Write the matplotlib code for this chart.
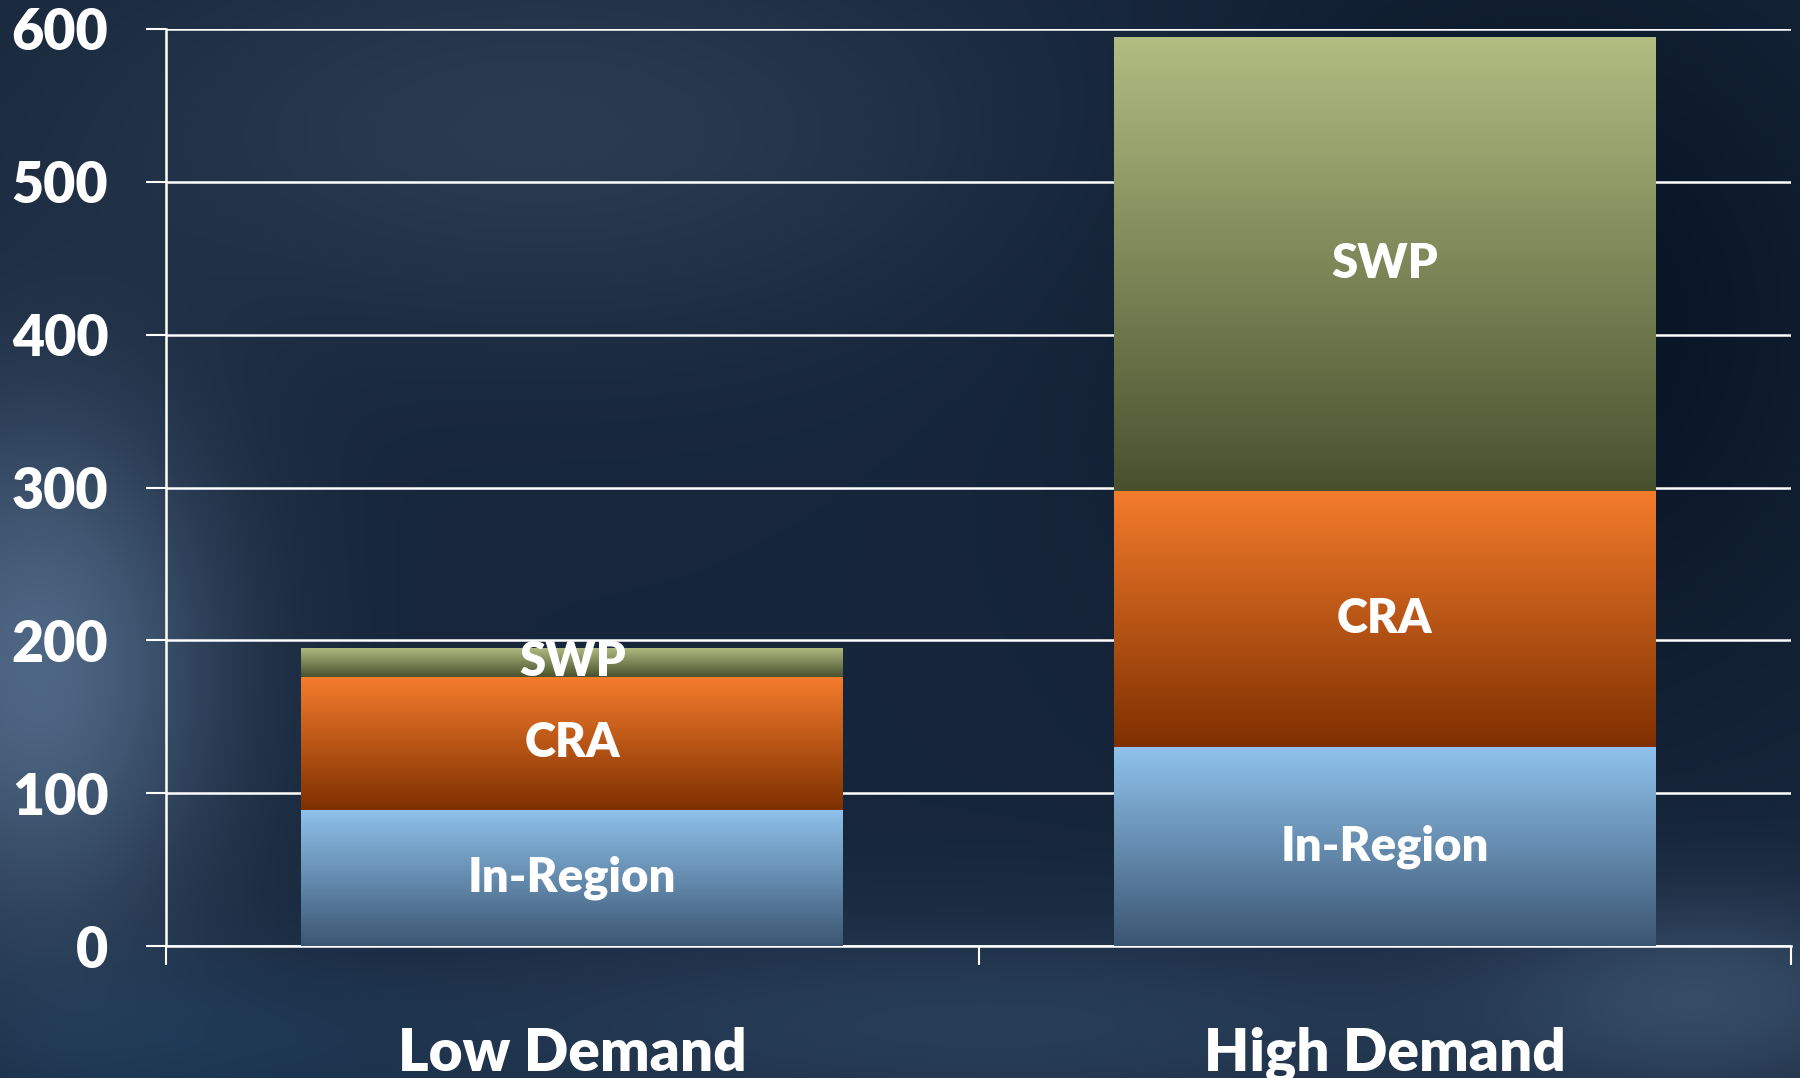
import matplotlib
matplotlib.use('Agg')
import matplotlib.pyplot as plt
import numpy as np
from matplotlib.colors import LinearSegmentedColormap

categories = ['Low Demand', 'High Demand']
series_names = ['In-Region', 'CRA', 'SWP']
in_region = [89, 130]
cra = [87, 168]
swp = [19, 297]
yticks = [0, 100, 200, 300, 400, 500, 600]

# top colour, bottom colour of each segment gradient
grad_colors = {
    'In-Region': ('#8fc2ec', '#3b5672'),
    'CRA': ('#f47c2c', '#7e3000'),
    'SWP': ('#b2bd82', '#48512e'),
}

plt.rcParams['font.family'] = ['Lato', 'DejaVu Sans']
plt.rcParams['font.weight'] = 'heavy'

fig = plt.figure(figsize=(18, 10.78), dpi=100)

# background: dark navy with a few soft lighter patches
bg_ax = fig.add_axes([0, 0, 1, 1], zorder=-10)
h, w = 540, 900
yy, xx = np.mgrid[0:h, 0:w] / np.array([h, w])[:, None, None]
base = np.array([0.09, 0.15, 0.23])
img = np.ones((h, w, 3)) * base
def blob(cx, cy, sx, sy, col, amt):
    g = np.exp(-(((xx - cx) / sx) ** 2 + ((yy - cy) / sy) ** 2))
    return g[..., None] * (np.array(col) - base) * amt
img += blob(0.02, 0.62, 0.10, 0.25, [0.33, 0.43, 0.55], 0.9)
img += blob(0.30, 0.12, 0.25, 0.18, [0.20, 0.27, 0.36], 0.7)
img += blob(0.85, 0.30, 0.20, 0.35, [0.02, 0.07, 0.13], 0.9)
img += blob(0.55, 0.95, 0.35, 0.10, [0.20, 0.30, 0.42], 0.6)
img += blob(0.95, 0.92, 0.12, 0.10, [0.30, 0.40, 0.52], 0.5)
img += blob(0.10, 0.97, 0.15, 0.08, [0.10, 0.22, 0.34], 0.6)
bg_ax.imshow(np.clip(img, 0, 1), aspect='auto', extent=[0, 1, 0, 1], origin='upper')
bg_ax.axis('off')

ax = fig.add_axes([166 / 1800, 1 - 946 / 1078, (1791 - 166) / 1800, (946 - 29) / 1078])
ax.patch.set_alpha(0)

x = np.arange(len(categories))
width = 0.667
bottom = np.zeros(len(categories))
for name, vals in zip(series_names, [in_region, cra, swp]):
    bars = ax.bar(x, vals, width, bottom=bottom, color='none', zorder=3)
    cmap = LinearSegmentedColormap.from_list(name, [grad_colors[name][1], grad_colors[name][0]])
    for bar, v, b in zip(bars, vals, bottom):
        x0, y0 = bar.get_x(), bar.get_y()
        x1, y1 = x0 + bar.get_width(), y0 + bar.get_height()
        grad = np.linspace(0, 1, 256)[:, None]
        im = ax.imshow(grad, cmap=cmap, origin='lower', aspect='auto',
                       extent=[x0, x1, y0, y1], zorder=3)
        im.set_clip_path(bar)
        ax.text(bar.get_x() + bar.get_width() / 2, b + v / 2, name,
                ha='center', va='center', color='white', fontsize=34,
                fontweight='heavy', zorder=5)
    bottom += np.array(vals)

ax.set_xlim(-0.5, 1.5)
ax.set_ylim(0, 600)
ax.set_yticks(yticks)
ax.set_yticklabels([str(t) for t in yticks])
ax.set_xticks(x)
ax.set_xticklabels(categories)
ax.set_xticks([-0.5, 0.5, 1.5], minor=True)
ax.tick_params(axis='x', which='major', length=0, pad=58, labelsize=42, labelcolor='white')
ax.tick_params(axis='x', which='minor', length=14, width=1.5, color='white', direction='out')
ax.tick_params(axis='y', length=14.5, width=1.5, color='white', labelsize=40,
               labelcolor='white', pad=27)
ax.grid(axis='y', color='white', linewidth=1.8, zorder=1)
ax.set_axisbelow(True)
for s in ['top', 'right']:
    ax.spines[s].set_visible(False)
for s in ['left', 'bottom']:
    ax.spines[s].set_color('white')
    ax.spines[s].set_linewidth(1.8)

fig.savefig('out.png', dpi=100)
